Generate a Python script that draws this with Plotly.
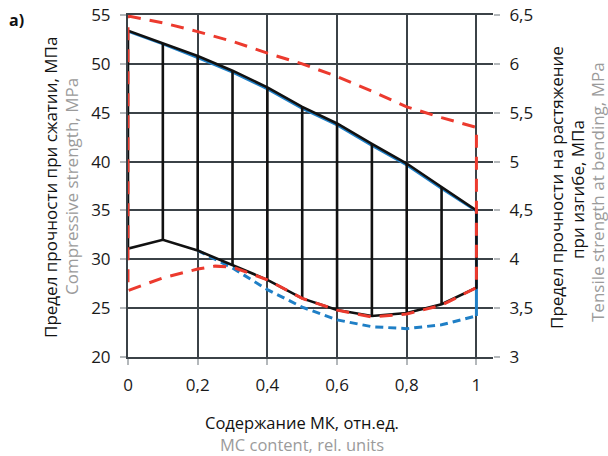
import plotly.graph_objects as go

# ---- data ----
x_ticks = [0, 0.2, 0.4, 0.6, 0.8, 1.0]
x_tick_labels = ["0", "0,2", "0,4", "0,6", "0,8", "1"]
y_ticks = [20, 25, 30, 35, 40, 45, 50, 55]
y2_ticks = [3, 3.5, 4, 4.5, 5, 5.5, 6, 6.5]
y2_tick_labels = ["3", "3,5", "4", "4,5", "5", "5,5", "6", "6,5"]

mc = [0, 0.1, 0.2, 0.3, 0.4, 0.5, 0.6, 0.7, 0.8, 0.9, 1.0]
# overlap region (black)
black_upper = [53.4, 52.1, 50.8, 49.3, 47.6, 45.6, 43.9, 41.8, 39.8, 37.4, 35.0]
black_lower = [31.1, 32.0, 30.9, 29.4, 27.9, 26.0, 24.8, 24.2, 24.5, 25.4, 27.1]

# compressive strength band (blue), MPa
blue_upper = [53.3, 52.0, 50.6, 49.1, 47.4, 45.4, 43.7, 41.6, 39.6, 37.2, 34.9]
blue_lower_x = [0.2, 0.25, 0.3, 0.4, 0.5, 0.6, 0.7, 0.8, 0.9, 1.0]
blue_lower = [30.9, 30.0, 29.1, 26.9, 25.1, 23.8, 23.1, 22.9, 23.3, 24.2]

# tensile strength at bending band (red), MPa (right axis)
red_upper_x = [0, 0.1, 0.2, 0.3, 0.4, 0.5, 0.6, 0.7, 0.8, 0.9, 1.0]
red_upper = [6.49, 6.42, 6.33, 6.23, 6.11, 6.00, 5.87, 5.72, 5.56, 5.45, 5.35]
red_lower_x = [0, 0.1, 0.2, 0.25, 0.3, 0.4, 0.5, 0.6, 0.7, 0.8, 0.9, 1.0]
red_lower = [3.68, 3.81, 3.90, 3.93, 3.92, 3.79, 3.60, 3.48, 3.41, 3.44, 3.53, 3.71]

GRID = "#3b4247"
TICK = "#b4b8bb"
BLACK = "#111111"
RED = "#ec3a2e"
BLUE = "#1f7fc6"
GRAY_TXT = "#9b9b9b"
FONT = "Open Sans"

fig = go.Figure()

# blue band
fig.add_trace(go.Scatter(x=mc, y=blue_upper, mode="lines",
                         line=dict(color=BLUE, width=2), hoverinfo="skip"))
fig.add_trace(go.Scatter(x=[mc[-1], mc[-1]], y=[blue_upper[-1], blue_lower[-1]], mode="lines",
                         line=dict(color=BLUE, width=3), hoverinfo="skip"))
fig.add_trace(go.Scatter(x=blue_lower_x, y=blue_lower, mode="lines",
                         line=dict(color=BLUE, width=3, dash="8px,5px"), hoverinfo="skip"))

# black overlap outline
bx = mc + [mc[-1]] + mc[::-1] + [mc[0]]
by = black_upper + [black_lower[-1]] + black_lower[::-1] + [black_upper[0]]
fig.add_trace(go.Scatter(x=bx, y=by, mode="lines",
                         line=dict(color=BLACK, width=2.6), hoverinfo="skip"))
# hatch lines
hx, hy = [], []
for xv, lo, up in zip(mc[1:-1], black_lower[1:-1], black_upper[1:-1]):
    hx += [xv, xv, None]
    hy += [lo, up, None]
fig.add_trace(go.Scatter(x=hx, y=hy, mode="lines",
                         line=dict(color=BLACK, width=2.6), hoverinfo="skip"))

# red dashed band (right axis)
rx = red_upper_x + red_lower_x[::-1] + [red_upper_x[0]]
ry = red_upper + red_lower[::-1] + [red_upper[0]]
fig.add_trace(go.Scatter(x=rx, y=ry, mode="lines", yaxis="y2",
                         line=dict(color=RED, width=3, dash="13px,9px"), hoverinfo="skip"))

axis_common = dict(
    showgrid=True, gridcolor=GRID, gridwidth=2,
    showline=True, linecolor=GRID, linewidth=2,
    ticks="outside", ticklen=6, tickwidth=2, tickcolor=TICK,
    zeroline=False, automargin=False,
    tickfont=dict(family=FONT, size=17, color="#1a1a1a"),
)

fig.update_layout(
    width=608, height=456,
    margin=dict(l=128, r=115, t=15, b=99, autoexpand=False),
    paper_bgcolor="white", plot_bgcolor="white",
    showlegend=False,
    xaxis=dict(range=[0, 1.0476], tickvals=x_ticks, ticktext=x_tick_labels,
               mirror=True, ticklabelstandoff=6, **axis_common),
    yaxis=dict(range=[20, 55], tickvals=y_ticks, ticklabelstandoff=6, **axis_common),
    yaxis2=dict(range=[3, 6.5], tickvals=y2_ticks, ticktext=y2_tick_labels,
                overlaying="y", side="right", showgrid=False, showline=False,
                ticks="outside", ticklen=6, tickwidth=2, tickcolor=TICK,
                zeroline=False, ticklabelstandoff=6, automargin=False,
                tickfont=dict(family=FONT, size=17, color="#1a1a1a")),
)

def ann(text, x, y, color, angle=0, bold=False, size=17):
    fig.add_annotation(text=("<b>%s</b>" % text) if bold else text,
                       x=x, y=y, xref="paper", yref="paper",
                       xanchor="center", yanchor="middle", showarrow=False,
                       textangle=angle, borderpad=0,
                       font=dict(family=FONT, size=size, color=color))

W, H, L, B = 365.0, 342.0, 128.0, 357.0
def px(xp):
    return (xp - L) / W
def py(yp):
    return (B - yp) / H

ann("а)", px(16), py(20), "#111111", bold=True, size=16)
ann("Предел прочности при сжатии, МПа", px(51), py(188), "#111111", angle=-90)
ann("Compressive strength, MPa", px(71), py(187), GRAY_TXT, angle=-90)
ann("Предел прочности на растяжение", px(557), py(188), "#111111", angle=-90)
ann("при изгибе, МПа", px(577), py(190), "#111111", angle=-90)
ann("Tensile strength at bending, MPa", px(597), py(192), GRAY_TXT, angle=-90)
ann("Содержание МК, отн.ед.", px(302), py(422), "#111111", size=16.5)
ann("MC content, rel. units", px(302), py(444), GRAY_TXT, size=16.5)

fig.write_html("out.html", config={"displayModeBar": False},
               post_script="document.body.style.margin='0';document.body.style.overflow='hidden';")
